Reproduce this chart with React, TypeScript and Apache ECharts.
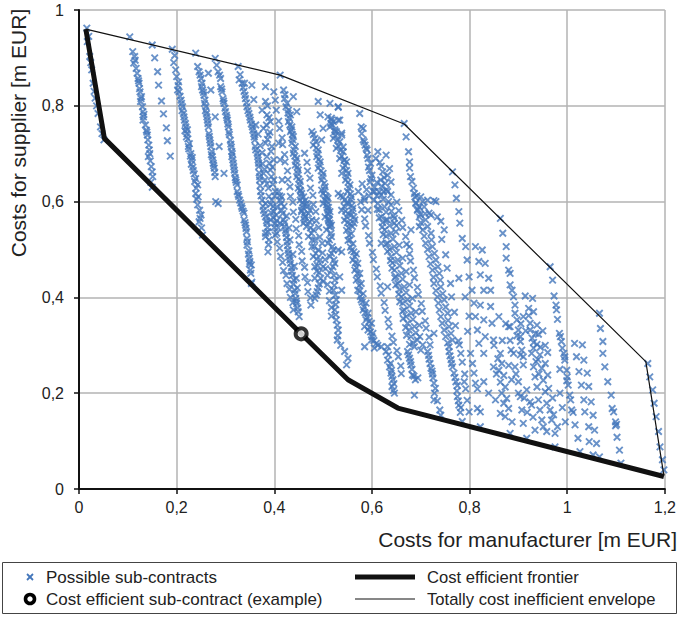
import React, { useEffect, useRef } from "react";
import * as echarts from "echarts";

// ---- tick labels / axes ----
const xTicks = [0, 0.2, 0.4, 0.6, 0.8, 1, 1.2];
const yTicks = [0, 0.2, 0.4, 0.6, 0.8, 1];
const xTitle = "Costs for manufacturer [m EUR]";
const yTitle = "Costs for supplier [m EUR]";
const legendNames = [
  "Possible sub-contracts",
  "Cost efficient sub-contract (example)",
  "Cost efficient frontier",
  "Totally cost inefficient envelope",
];

// ---- lines ----
const frontier = [[0.014, 0.96], [0.052, 0.732], [0.455, 0.324], [0.551, 0.228], [0.653, 0.169], [1.198, 0.026]];
const envelope = [[0.014, 0.96], [0.412, 0.864], [0.666, 0.762], [1.161, 0.266], [1.198, 0.028]];
const example = [[0.455, 0.324]];

// ---- possible sub-contracts (read stripe by stripe) ----
const stripeA = [[0.016,0.962],[0.017,0.934],[0.022,0.903],[0.026,0.875],[0.029,0.847],[0.033,0.816],[0.039,0.784],[0.044,0.756],[0.051,0.729],[0.020,0.945],[0.024,0.890],[0.031,0.830],[0.036,0.800],[0.047,0.742]];
const stripeB = [[0.104,0.944],[0.110,0.913],[0.114,0.903],[0.112,0.889],[0.117,0.878],[0.119,0.868],[0.121,0.857],[0.123,0.847],[0.124,0.836],[0.125,0.829],[0.128,0.819],[0.126,0.809],[0.130,0.798],[0.131,0.788],[0.132,0.777],[0.131,0.770],[0.136,0.760],[0.138,0.749],[0.140,0.739],[0.141,0.729],[0.143,0.718],[0.144,0.708],[0.142,0.694],[0.148,0.673],[0.150,0.662],[0.151,0.652],[0.147,0.640],[0.150,0.630],[0.115,0.895],[0.122,0.852],[0.127,0.815],[0.133,0.782],[0.139,0.745],[0.145,0.700],[0.146,0.685]];
const stripeC = [[0.150,0.927],[0.155,0.900],[0.161,0.871],[0.163,0.843],[0.169,0.810],[0.173,0.783],[0.179,0.754],[0.181,0.727],[0.187,0.695]];
const stripeD = [[0.191,0.918],[0.194,0.890],[0.200,0.861],[0.204,0.850],[0.202,0.833],[0.205,0.829],[0.209,0.812],[0.212,0.798],[0.214,0.784],[0.216,0.770],[0.218,0.763],[0.219,0.756],[0.221,0.742],[0.223,0.731],[0.226,0.721],[0.225,0.710],[0.229,0.700],[0.231,0.686],[0.233,0.672],[0.236,0.658],[0.239,0.648],[0.243,0.635],[0.239,0.617],[0.243,0.593],[0.250,0.572],[0.246,0.558],[0.253,0.530],[0.241,0.605],[0.247,0.582],[0.210,0.805],[0.222,0.750],[0.232,0.692],[0.285,0.596]];
const stripeDFill = [[0.196,0.905],[0.198,0.875],[0.203,0.842],[0.207,0.820],[0.211,0.790],[0.215,0.777],[0.217,0.748],[0.220,0.735],[0.224,0.715],[0.228,0.695],[0.230,0.678],[0.234,0.665],[0.237,0.642],[0.240,0.628],[0.244,0.610],[0.248,0.565],[0.251,0.545]];
const stripeE1 = [[0.243,0.882],[0.246,0.871],[0.250,0.857],[0.252,0.847],[0.253,0.833],[0.256,0.822],[0.258,0.812],[0.260,0.798],[0.261,0.784],[0.263,0.770],[0.265,0.756],[0.266,0.742],[0.268,0.729],[0.270,0.715],[0.272,0.704],[0.273,0.694],[0.275,0.680],[0.277,0.670],[0.279,0.652],[0.265,0.868],[0.270,0.833],[0.279,0.777],[0.287,0.715],[0.297,0.659],[0.239,0.910]];
const stripeE1Fill = [[0.248,0.864],[0.251,0.840],[0.255,0.828],[0.257,0.805],[0.259,0.790],[0.262,0.777],[0.264,0.763],[0.267,0.736],[0.269,0.722],[0.271,0.698],[0.274,0.687],[0.276,0.675],[0.278,0.661]];
const stripeE2 = [[0.279,0.899],[0.285,0.871],[0.290,0.857],[0.290,0.840],[0.293,0.829],[0.295,0.815],[0.297,0.805],[0.300,0.788],[0.304,0.770],[0.306,0.756],[0.307,0.745],[0.310,0.728],[0.312,0.714],[0.314,0.700],[0.315,0.687],[0.317,0.673],[0.319,0.659],[0.321,0.645],[0.324,0.635],[0.324,0.621],[0.327,0.611],[0.331,0.597],[0.334,0.586],[0.338,0.576],[0.338,0.562],[0.341,0.551],[0.343,0.537],[0.344,0.523],[0.344,0.509],[0.348,0.497],[0.350,0.475],[0.353,0.468],[0.351,0.457],[0.353,0.429],[0.320,0.650],[0.313,0.705],[0.302,0.780]];
const stripeE2Fill = [[0.282,0.885],[0.288,0.864],[0.292,0.835],[0.296,0.810],[0.299,0.795],[0.303,0.775],[0.305,0.762],[0.308,0.740],[0.311,0.720],[0.313,0.694],[0.316,0.680],[0.318,0.666],[0.322,0.640],[0.326,0.615],[0.329,0.603],[0.333,0.590],[0.336,0.580],[0.340,0.556],[0.342,0.544],[0.345,0.516],[0.347,0.490],[0.349,0.482],[0.352,0.450]];
const stripeF = [[0.326,0.882],[0.328,0.854],[0.334,0.847],[0.338,0.830],[0.341,0.815],[0.344,0.798],[0.348,0.784],[0.351,0.770],[0.355,0.756],[0.358,0.742],[0.360,0.729],[0.361,0.715],[0.365,0.701],[0.367,0.687],[0.368,0.673],[0.369,0.660],[0.370,0.645],[0.371,0.633],[0.372,0.621],[0.375,0.603],[0.378,0.582],[0.382,0.568],[0.385,0.555],[0.387,0.537],[0.382,0.527],[0.389,0.520],[0.387,0.495],[0.402,0.530],[0.382,0.534],[0.339,0.847],[0.354,0.843],[0.358,0.813]];
const stripeFFill = [[0.330,0.865],[0.336,0.838],[0.340,0.822],[0.343,0.806],[0.346,0.790],[0.350,0.776],[0.353,0.762],[0.356,0.749],[0.359,0.735],[0.362,0.708],[0.366,0.694],[0.368,0.680],[0.370,0.652],[0.373,0.612],[0.377,0.590],[0.380,0.575],[0.384,0.560],[0.386,0.546],[0.388,0.510]];
const stripeGTop = [[0.382,0.840],[0.399,0.829],[0.382,0.809],[0.375,0.791],[0.385,0.781],[0.392,0.767],[0.378,0.753],[0.388,0.739],[0.382,0.722],[0.395,0.715],[0.385,0.694],[0.399,0.687],[0.392,0.666],[0.378,0.659],[0.399,0.645],[0.388,0.628],[0.402,0.621],[0.395,0.603],[0.382,0.596],[0.399,0.579],[0.392,0.562],[0.402,0.555],[0.412,0.864],[0.402,0.812]];
const stripeG = [[0.409,0.621],[0.412,0.603],[0.415,0.582],[0.419,0.562],[0.421,0.548],[0.424,0.534],[0.426,0.516],[0.428,0.499],[0.431,0.485],[0.433,0.471],[0.436,0.454],[0.440,0.436],[0.442,0.415],[0.444,0.398],[0.446,0.387],[0.449,0.370],[0.451,0.360],[0.415,0.610],[0.420,0.590],[0.425,0.570],[0.430,0.545],[0.432,0.520],[0.438,0.490],[0.441,0.465],[0.445,0.440],[0.447,0.420],[0.349,0.470],[0.354,0.432]];
const stripeGFill = [[0.386,0.800],[0.389,0.775],[0.384,0.760],[0.391,0.745],[0.386,0.730],[0.393,0.705],[0.390,0.680],[0.396,0.672],[0.394,0.652],[0.397,0.636],[0.401,0.612],[0.398,0.590],[0.404,0.572],[0.405,0.560],[0.408,0.545],[0.411,0.612],[0.414,0.596],[0.417,0.575],[0.421,0.556],[0.423,0.540],[0.425,0.525],[0.427,0.508],[0.429,0.492],[0.432,0.478],[0.435,0.462],[0.437,0.446],[0.439,0.428],[0.443,0.408],[0.445,0.392],[0.448,0.378]];
const stripeHTop = [[0.419,0.833],[0.422,0.823],[0.426,0.805],[0.429,0.791],[0.433,0.781],[0.429,0.767],[0.436,0.756],[0.433,0.746],[0.439,0.736],[0.436,0.722],[0.443,0.715],[0.439,0.701],[0.446,0.690],[0.443,0.676],[0.449,0.666],[0.446,0.652],[0.453,0.642],[0.449,0.628],[0.456,0.617],[0.453,0.603],[0.460,0.593],[0.456,0.579],[0.463,0.568],[0.460,0.555],[0.409,0.722],[0.412,0.687],[0.416,0.645],[0.405,0.589],[0.412,0.555],[0.439,0.819],[0.446,0.788]];
const stripeH = [[0.453,0.624],[0.460,0.610],[0.466,0.596],[0.456,0.582],[0.473,0.582],[0.463,0.568],[0.477,0.562],[0.466,0.548],[0.480,0.541],[0.470,0.527],[0.483,0.520],[0.477,0.506],[0.490,0.499],[0.480,0.485],[0.494,0.478],[0.483,0.464],[0.500,0.464],[0.483,0.440],[0.500,0.433],[0.483,0.398],[0.487,0.455],[0.490,0.420]];
const stripeHFill = [[0.421,0.815],[0.424,0.798],[0.428,0.785],[0.431,0.774],[0.432,0.760],[0.435,0.750],[0.437,0.740],[0.438,0.729],[0.440,0.708],[0.442,0.695],[0.444,0.684],[0.447,0.672],[0.448,0.659],[0.450,0.647],[0.452,0.635],[0.454,0.622],[0.455,0.610],[0.458,0.598],[0.459,0.587],[0.461,0.574],[0.462,0.561],[0.464,0.603],[0.468,0.590],[0.470,0.575],[0.472,0.558],[0.474,0.545],[0.476,0.534],[0.478,0.520],[0.482,0.506],[0.485,0.492],[0.487,0.480],[0.489,0.466],[0.492,0.452],[0.495,0.440],[0.492,0.428],[0.488,0.412],[0.486,0.405]];
const stripeITop = [[0.477,0.746],[0.483,0.732],[0.480,0.718],[0.490,0.708],[0.487,0.694],[0.494,0.683],[0.490,0.670],[0.500,0.659],[0.497,0.645],[0.504,0.631],[0.500,0.617],[0.510,0.607],[0.507,0.593],[0.514,0.579],[0.510,0.565],[0.517,0.551],[0.500,0.753],[0.497,0.729],[0.490,0.809],[0.514,0.805],[0.494,0.781],[0.517,0.774],[0.516,0.763]];
const stripeI = [[0.497,0.624],[0.507,0.610],[0.500,0.596],[0.510,0.582],[0.504,0.568],[0.514,0.555],[0.507,0.541],[0.517,0.527],[0.510,0.513],[0.521,0.499],[0.514,0.485],[0.524,0.471],[0.517,0.457],[0.524,0.436],[0.521,0.415],[0.527,0.395],[0.524,0.374],[0.527,0.353],[0.531,0.332],[0.529,0.311],[0.544,0.287],[0.551,0.273],[0.548,0.259]];
const stripeIFill = [[0.480,0.740],[0.485,0.725],[0.486,0.712],[0.489,0.700],[0.491,0.688],[0.493,0.676],[0.496,0.664],[0.499,0.652],[0.502,0.638],[0.503,0.624],[0.505,0.612],[0.508,0.600],[0.511,0.588],[0.512,0.574],[0.513,0.562],[0.515,0.548],[0.503,0.604],[0.508,0.588],[0.509,0.575],[0.511,0.561],[0.512,0.548],[0.516,0.534],[0.513,0.520],[0.519,0.506],[0.517,0.492],[0.522,0.478],[0.520,0.464],[0.522,0.446],[0.523,0.425],[0.525,0.405],[0.526,0.385],[0.526,0.364],[0.529,0.342],[0.530,0.320],[0.536,0.300]];
const stripeJTop = [[0.510,0.777],[0.521,0.767],[0.514,0.756],[0.527,0.746],[0.521,0.732],[0.534,0.725],[0.527,0.711],[0.541,0.704],[0.534,0.690],[0.548,0.683],[0.541,0.670],[0.551,0.659],[0.546,0.645],[0.555,0.635],[0.550,0.621],[0.558,0.610],[0.553,0.596],[0.561,0.586],[0.557,0.572],[0.565,0.562],[0.560,0.548],[0.531,0.770],[0.538,0.743],[0.531,0.797],[0.541,0.714],[0.544,0.687],[0.538,0.659],[0.531,0.798],[0.534,0.770],[0.524,0.746],[0.538,0.739]];
const stripeJ = [[0.531,0.617],[0.541,0.610],[0.548,0.597],[0.538,0.582],[0.551,0.575],[0.544,0.561],[0.555,0.554],[0.548,0.540],[0.558,0.533],[0.551,0.519],[0.561,0.512],[0.558,0.498],[0.568,0.491],[0.561,0.478],[0.571,0.471],[0.565,0.457],[0.575,0.450],[0.568,0.436],[0.578,0.429],[0.571,0.415],[0.582,0.408],[0.578,0.395],[0.588,0.388],[0.582,0.374],[0.592,0.367],[0.588,0.353],[0.599,0.346],[0.592,0.332],[0.602,0.325],[0.599,0.311],[0.609,0.304],[0.605,0.294],[0.619,0.297],[0.531,0.499],[0.534,0.443],[0.538,0.415],[0.629,0.287],[0.632,0.269],[0.636,0.255],[0.639,0.242],[0.643,0.228],[0.641,0.214],[0.646,0.200]];
const stripeJFill = [[0.517,0.770],[0.519,0.760],[0.524,0.750],[0.525,0.738],[0.530,0.728],[0.531,0.716],[0.536,0.707],[0.538,0.695],[0.543,0.686],[0.545,0.675],[0.548,0.665],[0.549,0.652],[0.551,0.640],[0.553,0.628],[0.556,0.616],[0.557,0.604],[0.559,0.592],[0.560,0.580],[0.563,0.568],[0.563,0.555],[0.536,0.612],[0.544,0.603],[0.543,0.590],[0.546,0.580],[0.548,0.568],[0.550,0.556],[0.552,0.545],[0.553,0.530],[0.555,0.520],[0.556,0.505],[0.563,0.495],[0.565,0.485],[0.566,0.472],[0.568,0.462],[0.570,0.450],[0.572,0.440],[0.574,0.425],[0.575,0.413],[0.576,0.402],[0.580,0.390],[0.584,0.380],[0.586,0.368],[0.590,0.358],[0.594,0.350],[0.595,0.338],[0.597,0.328],[0.600,0.318],[0.604,0.310],[0.612,0.300],[0.634,0.280],[0.638,0.262],[0.640,0.248],[0.641,0.235],[0.645,0.220],[0.644,0.206]];
const stripeKTop = [[0.575,0.784],[0.578,0.756],[0.582,0.753],[0.582,0.729],[0.584,0.725],[0.588,0.711],[0.590,0.708],[0.590,0.697],[0.592,0.690],[0.597,0.680],[0.595,0.665],[0.612,0.704],[0.629,0.697],[0.619,0.674],[0.636,0.669],[0.618,0.645],[0.627,0.638],[0.639,0.641],[0.580,0.637],[0.584,0.609],[0.624,0.621],[0.639,0.614],[0.646,0.555],[0.629,0.562],[0.600,0.655],[0.605,0.630],[0.610,0.640],[0.615,0.620]];
const stripeKTopFill = [[0.579,0.742],[0.586,0.718],[0.593,0.672],[0.598,0.648],[0.602,0.622],[0.589,0.625],[0.594,0.612],[0.608,0.690],[0.616,0.682],[0.622,0.662],[0.625,0.650],[0.632,0.655],[0.620,0.632],[0.630,0.625],[0.634,0.600],[0.640,0.580],[0.644,0.570],[0.650,0.550]];
const stripeK = [[0.605,0.621],[0.619,0.614],[0.632,0.621],[0.612,0.596],[0.626,0.589],[0.639,0.593],[0.619,0.568],[0.632,0.562],[0.646,0.565],[0.626,0.541],[0.639,0.534],[0.649,0.537],[0.632,0.513],[0.646,0.506],[0.656,0.509],[0.639,0.485],[0.653,0.478],[0.663,0.482],[0.646,0.457],[0.660,0.450],[0.670,0.454],[0.653,0.429],[0.666,0.422],[0.677,0.426],[0.660,0.401],[0.673,0.395],[0.683,0.398],[0.666,0.374],[0.680,0.367],[0.690,0.370],[0.673,0.346],[0.687,0.339],[0.697,0.342],[0.680,0.318],[0.693,0.311],[0.687,0.297],[0.704,0.301],[0.673,0.287],[0.677,0.273],[0.680,0.259],[0.683,0.238],[0.689,0.228],[0.694,0.232],[0.687,0.196],[0.714,0.287],[0.717,0.271],[0.721,0.252],[0.724,0.240],[0.727,0.221],[0.730,0.210],[0.727,0.186],[0.734,0.184],[0.741,0.154]];
const stripeKFill = [[0.610,0.612],[0.623,0.605],[0.615,0.583],[0.629,0.578],[0.622,0.556],[0.636,0.550],[0.629,0.528],[0.643,0.522],[0.636,0.500],[0.650,0.494],[0.642,0.472],[0.657,0.466],[0.649,0.444],[0.663,0.438],[0.656,0.416],[0.670,0.410],[0.663,0.388],[0.677,0.382],[0.670,0.360],[0.684,0.354],[0.676,0.332],[0.690,0.326],[0.684,0.305],[0.698,0.318],[0.700,0.290],[0.675,0.280],[0.679,0.266],[0.682,0.250],[0.686,0.236],[0.716,0.279],[0.719,0.262],[0.723,0.246],[0.725,0.232],[0.728,0.200],[0.739,0.165]];
const stripeLTop = [[0.666,0.763],[0.670,0.735],[0.675,0.704],[0.677,0.683],[0.677,0.670],[0.679,0.652],[0.682,0.642],[0.685,0.628],[0.688,0.610],[0.690,0.598],[0.693,0.582],[0.697,0.548],[0.697,0.589],[0.699,0.573],[0.714,0.603],[0.731,0.600],[0.717,0.576],[0.734,0.568],[0.727,0.602],[0.721,0.572]];
const stripeL = [[0.687,0.617],[0.700,0.610],[0.690,0.596],[0.707,0.589],[0.697,0.568],[0.710,0.562],[0.704,0.541],[0.721,0.534],[0.710,0.513],[0.724,0.506],[0.717,0.485],[0.731,0.478],[0.724,0.457],[0.738,0.450],[0.727,0.429],[0.741,0.422],[0.734,0.401],[0.748,0.395],[0.738,0.374],[0.755,0.367],[0.744,0.346],[0.758,0.339],[0.751,0.318],[0.765,0.311],[0.758,0.297],[0.680,0.541],[0.677,0.506],[0.748,0.541],[0.727,0.325],[0.758,0.287],[0.765,0.255],[0.768,0.242],[0.772,0.224],[0.775,0.216],[0.775,0.193],[0.778,0.175],[0.782,0.170],[0.785,0.141],[0.782,0.283],[0.789,0.224],[0.792,0.209],[0.799,0.161],[0.762,0.270]];
const stripeLFill = [[0.692,0.612],[0.704,0.600],[0.694,0.584],[0.709,0.575],[0.700,0.556],[0.714,0.548],[0.707,0.528],[0.722,0.520],[0.714,0.500],[0.728,0.492],[0.720,0.470],[0.735,0.464],[0.726,0.442],[0.740,0.436],[0.731,0.414],[0.745,0.408],[0.736,0.388],[0.751,0.380],[0.741,0.360],[0.756,0.352],[0.748,0.332],[0.762,0.325],[0.755,0.305],[0.760,0.278],[0.763,0.262],[0.770,0.233],[0.774,0.205],[0.777,0.184],[0.781,0.160],[0.785,0.265],[0.790,0.240],[0.795,0.185]];
const centerFillLeft = [[0.362,0.760],[0.367,0.741],[0.371,0.717],[0.375,0.702],[0.376,0.679],[0.380,0.667],[0.381,0.645],[0.385,0.637],[0.389,0.611],[0.392,0.594],[0.393,0.577],[0.398,0.566],[0.400,0.546],[0.405,0.534],[0.406,0.516],[0.411,0.503],[0.413,0.486],[0.417,0.473],[0.419,0.456],[0.424,0.446],[0.426,0.429],[0.431,0.417],[0.433,0.400],[0.438,0.389],[0.439,0.374],[0.404,0.791],[0.409,0.768],[0.411,0.753],[0.416,0.733],[0.417,0.719],[0.421,0.698],[0.422,0.683],[0.427,0.664],[0.428,0.646],[0.432,0.631],[0.433,0.611],[0.438,0.599],[0.439,0.578],[0.444,0.563],[0.445,0.543],[0.450,0.529],[0.451,0.510],[0.456,0.496],[0.457,0.476],[0.462,0.463],[0.463,0.443],[0.468,0.431],[0.469,0.412],[0.474,0.399],[0.475,0.384],[0.462,0.701],[0.467,0.682],[0.468,0.664],[0.473,0.649],[0.474,0.628],[0.479,0.613],[0.480,0.594],[0.485,0.579],[0.486,0.560],[0.491,0.546],[0.493,0.526],[0.498,0.513],[0.499,0.493],[0.504,0.479],[0.505,0.460],[0.509,0.446],[0.509,0.427],[0.513,0.413],[0.513,0.393],[0.517,0.379],[0.517,0.361]];
const centerFillRight = [[0.572,0.621],[0.577,0.599],[0.579,0.583],[0.585,0.564],[0.587,0.549],[0.593,0.529],[0.595,0.513],[0.601,0.494],[0.603,0.479],[0.609,0.459],[0.611,0.443],[0.617,0.424],[0.619,0.409],[0.625,0.389],[0.627,0.373],[0.633,0.354],[0.635,0.339],[0.641,0.319],[0.644,0.306],[0.651,0.289],[0.654,0.276],[0.659,0.257],[0.660,0.241],[0.596,0.641],[0.604,0.603],[0.611,0.584],[0.615,0.566],[0.621,0.547],[0.623,0.531],[0.629,0.511],[0.632,0.496],[0.638,0.477],[0.641,0.461],[0.647,0.441],[0.649,0.426],[0.655,0.407],[0.657,0.391],[0.663,0.371],[0.664,0.356],[0.669,0.337],[0.671,0.321],[0.677,0.302],[0.651,0.599],[0.655,0.581],[0.661,0.561],[0.663,0.546],[0.669,0.527],[0.671,0.511],[0.677,0.491],[0.679,0.476],[0.685,0.457],[0.687,0.441],[0.693,0.421],[0.695,0.406],[0.701,0.387],[0.703,0.371],[0.709,0.351],[0.711,0.336],[0.717,0.317],[0.719,0.301],[0.741,0.559],[0.743,0.521],[0.751,0.489],[0.754,0.461],[0.761,0.429],[0.763,0.401],[0.769,0.369],[0.771,0.341],[0.777,0.309],[0.779,0.301],[0.796,0.329],[0.799,0.361],[0.791,0.401]];
const stripeM = [[0.765,0.662],[0.770,0.635],[0.773,0.607],[0.778,0.579],[0.780,0.555],[0.785,0.523],[0.792,0.506],[0.795,0.478],[0.799,0.443],[0.805,0.415],[0.809,0.388],[0.812,0.360],[0.816,0.332],[0.819,0.304],[0.802,0.283],[0.806,0.262],[0.809,0.242],[0.812,0.221],[0.816,0.209],[0.816,0.168],[0.822,0.161],[0.822,0.130],[0.778,0.440]];
const stripeN = [[0.812,0.506],[0.826,0.499],[0.819,0.475],[0.832,0.471],[0.822,0.447],[0.839,0.440],[0.829,0.415],[0.843,0.415],[0.822,0.384],[0.843,0.381],[0.829,0.353],[0.846,0.346],[0.832,0.318],[0.849,0.311],[0.829,0.283],[0.829,0.224],[0.839,0.200],[0.849,0.255],[0.853,0.186]];
const stripeO = [[0.863,0.565],[0.868,0.534],[0.875,0.506],[0.875,0.482],[0.880,0.457],[0.883,0.450],[0.883,0.426],[0.887,0.415],[0.890,0.401],[0.893,0.384],[0.893,0.367],[0.897,0.353],[0.900,0.332],[0.904,0.318],[0.904,0.308],[0.907,0.290],[0.910,0.276]];
const stripeP = [[0.914,0.403],[0.929,0.398],[0.921,0.377],[0.931,0.370],[0.921,0.362],[0.924,0.346],[0.938,0.342],[0.924,0.332],[0.935,0.325],[0.941,0.323],[0.928,0.315],[0.931,0.306],[0.938,0.302],[0.945,0.296],[0.931,0.294],[0.860,0.360],[0.883,0.339],[0.883,0.310],[0.867,0.310],[0.885,0.290],[0.874,0.345]];
const stripeQ = [[0.863,0.283],[0.866,0.262],[0.860,0.248],[0.870,0.237],[0.863,0.223],[0.873,0.213],[0.866,0.200],[0.876,0.189],[0.870,0.179],[0.880,0.168],[0.863,0.158],[0.873,0.151],[0.887,0.140],[0.883,0.116],[0.890,0.283],[0.904,0.280],[0.893,0.255],[0.910,0.259],[0.900,0.224],[0.917,0.207],[0.904,0.193],[0.924,0.182],[0.907,0.165],[0.927,0.175],[0.910,0.137],[0.917,0.106],[0.927,0.283],[0.944,0.280],[0.931,0.255],[0.948,0.252],[0.934,0.234],[0.951,0.227],[0.938,0.213],[0.955,0.203],[0.941,0.186],[0.958,0.179],[0.944,0.165],[0.965,0.165],[0.948,0.144],[0.968,0.144],[0.951,0.130],[0.958,0.120],[0.975,0.116],[0.934,0.123],[0.975,0.088]];
const lowerRightFill = [[0.850,0.300],[0.858,0.272],[0.855,0.240],[0.880,0.258],[0.886,0.228],[0.895,0.240],[0.900,0.200],[0.912,0.190],[0.918,0.160],[0.930,0.150],[0.936,0.266],[0.942,0.240],[0.955,0.262],[0.960,0.238],[0.962,0.210],[0.970,0.190],[0.972,0.155],[0.980,0.130],[0.985,0.250],[0.985,0.200],[0.990,0.170],[0.996,0.140],[0.897,0.320],[0.905,0.345],[0.915,0.330],[0.910,0.360],[0.950,0.330],[0.955,0.300],[0.960,0.285],[0.940,0.270]];
const stripeR = [[0.965,0.464],[0.970,0.436],[0.973,0.403],[0.977,0.384],[0.978,0.374],[0.980,0.354],[0.984,0.325],[0.986,0.318],[0.988,0.308],[0.990,0.294],[0.993,0.283],[0.995,0.276],[0.995,0.269],[0.999,0.248],[1.000,0.234],[0.999,0.226],[1.002,0.217],[1.005,0.196],[1.007,0.186],[1.009,0.165],[1.012,0.160],[1.016,0.134],[1.022,0.106],[1.026,0.078]];
const stripeS = [[1.015,0.304],[1.031,0.301],[1.019,0.276],[1.034,0.269],[1.024,0.245],[1.041,0.242],[1.029,0.217],[1.044,0.214],[1.034,0.186],[1.049,0.182],[1.036,0.161],[1.053,0.154],[1.044,0.130],[1.056,0.123],[1.045,0.099],[1.060,0.095],[1.053,0.071],[1.066,0.067]];
const stripeT = [[1.066,0.367],[1.068,0.335],[1.073,0.308],[1.073,0.283],[1.077,0.255],[1.083,0.224],[1.090,0.196],[1.092,0.168],[1.095,0.161],[1.099,0.140],[1.101,0.135],[1.099,0.132],[1.102,0.108],[1.107,0.081],[1.110,0.054]];
const stripeU = [[1.165,0.262],[1.169,0.234],[1.175,0.207],[1.178,0.179],[1.182,0.151],[1.187,0.120],[1.190,0.088],[1.195,0.061],[1.198,0.040]];
const extras = [[0.585,0.603],[0.592,0.582],[0.619,0.513],[0.632,0.422],[0.538,0.495],[0.585,0.339],[0.585,0.297],[0.632,0.297],[0.880,0.339],[0.280,0.600]];

const subContracts = [
  ...stripeA, ...stripeB, ...stripeC, ...stripeD, ...stripeDFill, ...stripeE1, ...stripeE1Fill,
  ...stripeE2, ...stripeE2Fill, ...stripeF, ...stripeFFill, ...stripeGTop, ...stripeG, ...stripeGFill,
  ...stripeHTop, ...stripeH, ...stripeHFill, ...stripeITop, ...stripeI, ...stripeIFill,
  ...stripeJTop, ...stripeJ, ...stripeJFill, ...stripeKTop, ...stripeKTopFill, ...stripeK, ...stripeKFill,
  ...stripeLTop, ...stripeL, ...stripeLFill, ...centerFillLeft, ...centerFillRight,
  ...stripeM, ...stripeN, ...stripeO, ...stripeP, ...stripeQ,
  ...lowerRightFill, ...stripeR, ...stripeS, ...stripeT, ...stripeU, ...extras,
];

const FONT = "Liberation Sans, Arial, Helvetica, sans-serif";
const BLUE = "#4477bb";
const INK = "#111";
const fmt = (v: number) => String(+Number(v).toFixed(1)).replace(".", ",");

export default function App() {
  const ref = useRef<HTMLDivElement>(null);
  useEffect(() => {
    if (!ref.current) return;
    const chart = echarts.init(ref.current, null, { renderer: "svg" });
    const axisCommon = {
      type: "value" as const,
      axisLine: { show: true, onZero: false, lineStyle: { color: INK, width: 2 } },
      axisTick: { show: true, length: 5, lineStyle: { color: INK, width: 1.5 } },
      splitLine: { show: true, lineStyle: { color: "#b3b3b3", width: 1.5 } },
    };
    chart.setOption({
      animation: false,
      backgroundColor: "#fff",
      grid: { left: 79, right: 10, top: 10, bottom: 128, containLabel: false },
      xAxis: {
        ...axisCommon,
        min: xTicks[0],
        max: xTicks[xTicks.length - 1],
        interval: 0.2,
        axisLabel: { formatter: fmt, fontSize: 16, color: "#222", margin: 10, fontFamily: FONT },
      },
      yAxis: {
        ...axisCommon,
        min: yTicks[0],
        max: yTicks[yTicks.length - 1],
        interval: 0.2,
        axisLabel: { formatter: fmt, fontSize: 16, color: "#222", margin: 15, fontFamily: FONT },
      },
      series: [
        {
          name: legendNames[3],
          type: "line",
          data: envelope,
          symbol: "none",
          lineStyle: { color: INK, width: 1.2 },
          z: 3,
        },
        {
          name: legendNames[0],
          type: "scatter",
          data: subContracts,
          symbol: "path://M0,0L10,10M10,0L0,10",
          symbolSize: 6.5,
          itemStyle: { color: BLUE, borderColor: BLUE, borderWidth: 1.9 },
          z: 2,
        },
        {
          name: legendNames[2],
          type: "line",
          data: frontier,
          symbol: "none",
          lineStyle: { color: INK, width: 5 },
          z: 4,
        },
        {
          name: legendNames[1],
          type: "scatter",
          data: example,
          symbol: "circle",
          symbolSize: 11,
          itemStyle: { color: "#fff", borderColor: "#000", borderWidth: 4 },
          z: 5,
        },
      ],
      graphic: [
        {
          type: "text",
          right: 2,
          top: 529,
          style: { text: xTitle, font: `21px ${FONT}`, fill: "#222" },
        },
        {
          type: "text",
          x: 18,
          y: 133,
          rotation: Math.PI / 2,
          style: { text: yTitle, font: `21px ${FONT}`, fill: "#222", align: "center", verticalAlign: "middle" },
        },
        {
          type: "rect",
          shape: { x: 2.5, y: 562.5, width: 674, height: 51 },
          style: { fill: "none", stroke: "#444", lineWidth: 1 },
        },
        { type: "line", shape: { x1: 27, y1: 574, x2: 33, y2: 580 }, style: { stroke: BLUE, lineWidth: 1.8 } },
        { type: "line", shape: { x1: 33, y1: 574, x2: 27, y2: 580 }, style: { stroke: BLUE, lineWidth: 1.8 } },
        { type: "circle", shape: { cx: 30, cy: 599, r: 4.5 }, style: { fill: "#fff", stroke: "#000", lineWidth: 3.6 } },
        { type: "line", shape: { x1: 355, y1: 577, x2: 415, y2: 577 }, style: { stroke: INK, lineWidth: 5 } },
        { type: "line", shape: { x1: 355, y1: 599, x2: 415, y2: 599 }, style: { stroke: INK, lineWidth: 1.2 } },
        { type: "text", x: 46, y: 577, style: { text: legendNames[0], font: `17px ${FONT}`, fill: "#222", verticalAlign: "middle" } },
        { type: "text", x: 46, y: 599, style: { text: legendNames[1], font: `17px ${FONT}`, fill: "#222", verticalAlign: "middle" } },
        { type: "text", x: 427, y: 577, style: { text: legendNames[2], font: `16.6px ${FONT}`, fill: "#222", verticalAlign: "middle" } },
        { type: "text", x: 427, y: 599, style: { text: legendNames[3], font: `16.6px ${FONT}`, fill: "#222", verticalAlign: "middle" } },
      ],
    });
    return () => chart.dispose();
  }, []);
  return <div ref={ref} style={{ width: 679, height: 617, position: "absolute", left: 0, top: 0 }} />;
}
